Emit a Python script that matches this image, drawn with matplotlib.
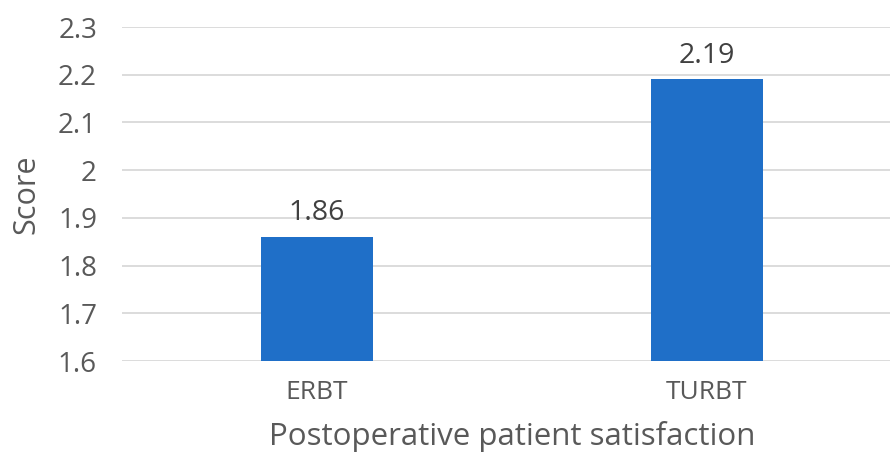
import matplotlib
matplotlib.use("Agg")
import matplotlib.pyplot as plt

groups = ["ERBT", "TURBT"]
scores = [1.86, 2.19]
y_ticks = [1.6, 1.7, 1.8, 1.9, 2.0, 2.1, 2.2, 2.3]
y_tick_labels = ["1.6", "1.7", "1.8", "1.9", "2", "2.1", "2.2", "2.3"]

plt.rcParams.update({"font.family": ["Open Sans", "DejaVu Sans"], "font.size": 15})
TEXT = "#595959"

fig = plt.figure(figsize=(8.9, 4.59), dpi=100)
# plot area runs slightly past the right edge
ax = fig.add_axes([122 / 890, 98 / 459, 780 / 890, 334 / 459])

x = list(range(len(groups)))
ax.bar(x, scores, width=0.288, color="#1F6FC8", zorder=3)
for xi, v in zip(x, scores):
    ax.annotate(f"{v:.2f}", (xi, v), xytext=(0, 7), textcoords="offset points",
                ha="center", va="bottom", fontsize=20.5, color="#404040")

ax.set_xlim(-0.5, 1.5)
ax.set_ylim(1.6, 2.3)
ax.set_yticks(y_ticks)
ax.set_yticklabels(y_tick_labels)
ax.set_xticks(x)
ax.set_xticklabels(groups)
ax.yaxis.grid(True, color="#d9d9d9", linewidth=1.3, zorder=0)
ax.tick_params(axis="both", length=0, colors=TEXT)
ax.tick_params(axis="y", pad=18, labelsize=20)
ax.tick_params(axis="x", pad=14, labelsize=19)
for s in ax.spines.values():
    s.set_visible(False)

ax.set_ylabel("Score", fontsize=22, color=TEXT, labelpad=12)
ax.set_xlabel("Postoperative patient satisfaction", fontsize=22.5, color=TEXT, labelpad=11)

fig.savefig("out.png", dpi=100)
